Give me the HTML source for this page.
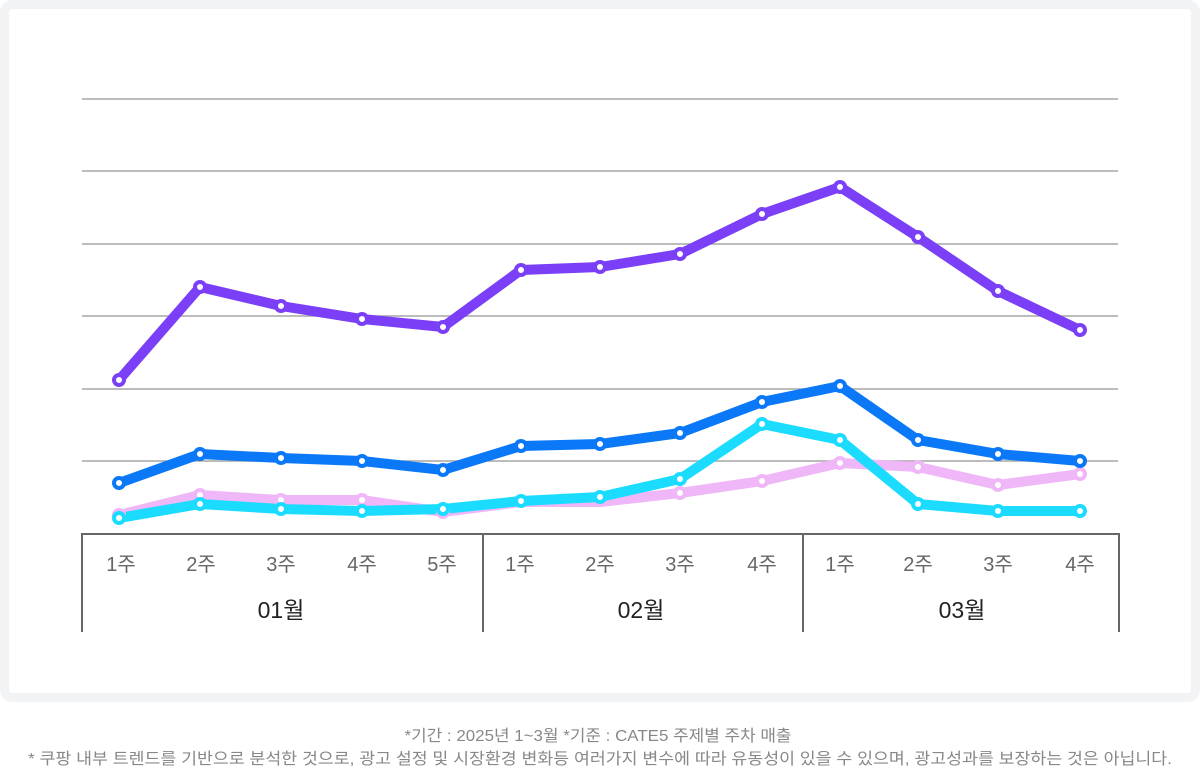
<!DOCTYPE html>
<html><head><meta charset="utf-8"><style>
body{margin:0;width:1200px;height:773px;background:#fff;overflow:hidden;font-family:"Liberation Sans","Noto Sans CJK KR",sans-serif}
</style></head><body>
<svg width="1200" height="773" xmlns="http://www.w3.org/2000/svg" style="position:absolute;left:0;top:0">
<rect x="0" y="0" width="1200" height="702" rx="12" fill="#f2f3f5"/>
<rect x="9" y="9" width="1182" height="684" rx="4" fill="#fff"/>
<g stroke="#a5a5a5" stroke-width="1.5">
<line x1="82" y1="99" x2="1118" y2="99"/><line x1="82" y1="171" x2="1118" y2="171"/>
<line x1="82" y1="244" x2="1118" y2="244"/><line x1="82" y1="316" x2="1118" y2="316"/>
<line x1="82" y1="389" x2="1118" y2="389"/><line x1="82" y1="461" x2="1118" y2="461"/>
</g>
<g stroke="#666" stroke-width="2" fill="none">
<line x1="81" y1="534" x2="1120" y2="534"/>
<line x1="82" y1="534" x2="82" y2="632"/><line x1="483" y1="534" x2="483" y2="632"/>
<line x1="803" y1="534" x2="803" y2="632"/><line x1="1119" y1="534" x2="1119" y2="632"/>
</g>
<g fill="none" stroke-width="10" stroke-linejoin="round" stroke-linecap="round">
<polyline stroke="#efb7f7" points="119,515 200,495 281,500 362,500 443,512 521,502 600,502 680,493 762,481 840,463 918,467 998,485 1080,474"/>
<polyline stroke="#1bdcff" points="119,518 200,504 281,509 362,511 443,509 521,501 600,497 680,479 762,424 840,440 918,504 998,511 1080,511"/>
<polyline stroke="#0a78f7" points="119,483 200,454 281,458 362,461 443,470 521,446 600,444 680,433 762,402 840,386 918,440 998,454 1080,461"/>
<polyline stroke="#7a3ff6" points="119,380 200,287 281,306 362,319 443,327 521,270 600,267 680,254 762,214 840,187 918,237 998,291 1080,330"/>
</g>
<g fill="#fff" stroke-width="4">
<g stroke="#efb7f7"><circle cx="119" cy="515" r="5"/><circle cx="200" cy="495" r="5"/><circle cx="281" cy="500" r="5"/><circle cx="362" cy="500" r="5"/><circle cx="443" cy="512" r="5"/><circle cx="680" cy="493" r="5"/><circle cx="762" cy="481" r="5"/><circle cx="840" cy="463" r="5"/><circle cx="918" cy="467" r="5"/><circle cx="998" cy="485" r="5"/><circle cx="1080" cy="474" r="5"/></g>
<g stroke="#1bdcff"><circle cx="119" cy="518" r="5"/><circle cx="200" cy="504" r="5"/><circle cx="281" cy="509" r="5"/><circle cx="362" cy="511" r="5"/><circle cx="443" cy="509" r="5"/><circle cx="521" cy="501" r="5"/><circle cx="600" cy="497" r="5"/><circle cx="680" cy="479" r="5"/><circle cx="762" cy="424" r="5"/><circle cx="840" cy="440" r="5"/><circle cx="918" cy="504" r="5"/><circle cx="998" cy="511" r="5"/><circle cx="1080" cy="511" r="5"/></g>
<g stroke="#0a78f7"><circle cx="119" cy="483" r="5"/><circle cx="200" cy="454" r="5"/><circle cx="281" cy="458" r="5"/><circle cx="362" cy="461" r="5"/><circle cx="443" cy="470" r="5"/><circle cx="521" cy="446" r="5"/><circle cx="600" cy="444" r="5"/><circle cx="680" cy="433" r="5"/><circle cx="762" cy="402" r="5"/><circle cx="840" cy="386" r="5"/><circle cx="918" cy="440" r="5"/><circle cx="998" cy="454" r="5"/><circle cx="1080" cy="461" r="5"/></g>
<g stroke="#7a3ff6"><circle cx="119" cy="380" r="5"/><circle cx="200" cy="287" r="5"/><circle cx="281" cy="306" r="5"/><circle cx="362" cy="319" r="5"/><circle cx="443" cy="327" r="5"/><circle cx="521" cy="270" r="5"/><circle cx="600" cy="267" r="5"/><circle cx="680" cy="254" r="5"/><circle cx="762" cy="214" r="5"/><circle cx="840" cy="187" r="5"/><circle cx="918" cy="237" r="5"/><circle cx="998" cy="291" r="5"/><circle cx="1080" cy="330" r="5"/></g>
</g>
<g font-family="Liberation Sans, Noto Sans CJK KR, sans-serif" font-size="20" fill="#666" text-anchor="middle">
<text x="121" y="571">1주</text><text x="201" y="571">2주</text><text x="281" y="571">3주</text><text x="362" y="571">4주</text><text x="442" y="571">5주</text>
<text x="520" y="571">1주</text><text x="600" y="571">2주</text><text x="680" y="571">3주</text><text x="762" y="571">4주</text>
<text x="840" y="571">1주</text><text x="918" y="571">2주</text><text x="998" y="571">3주</text><text x="1080" y="571">4주</text>
</g>
<g font-family="Liberation Sans, Noto Sans CJK KR, sans-serif" font-size="23" fill="#222" text-anchor="middle">
<text x="281" y="618">01월</text><text x="641" y="618">02월</text><text x="962" y="618">03월</text>
</g>
<g font-family="Liberation Sans, Noto Sans CJK KR, sans-serif" font-size="16" fill="#888" text-anchor="middle">
<text x="598" y="741" textLength="387" lengthAdjust="spacingAndGlyphs">*기간 : 2025년 1~3월 *기준 : CATE5 주제별 주차 매출</text>
<text x="600" y="764" textLength="1144" lengthAdjust="spacingAndGlyphs">* 쿠팡 내부 트렌드를 기반으로 분석한 것으로, 광고 설정 및 시장환경 변화등 여러가지 변수에 따라 유동성이 있을 수 있으며, 광고성과를 보장하는 것은 아닙니다.</text>
</g>
</svg>
</body></html>
